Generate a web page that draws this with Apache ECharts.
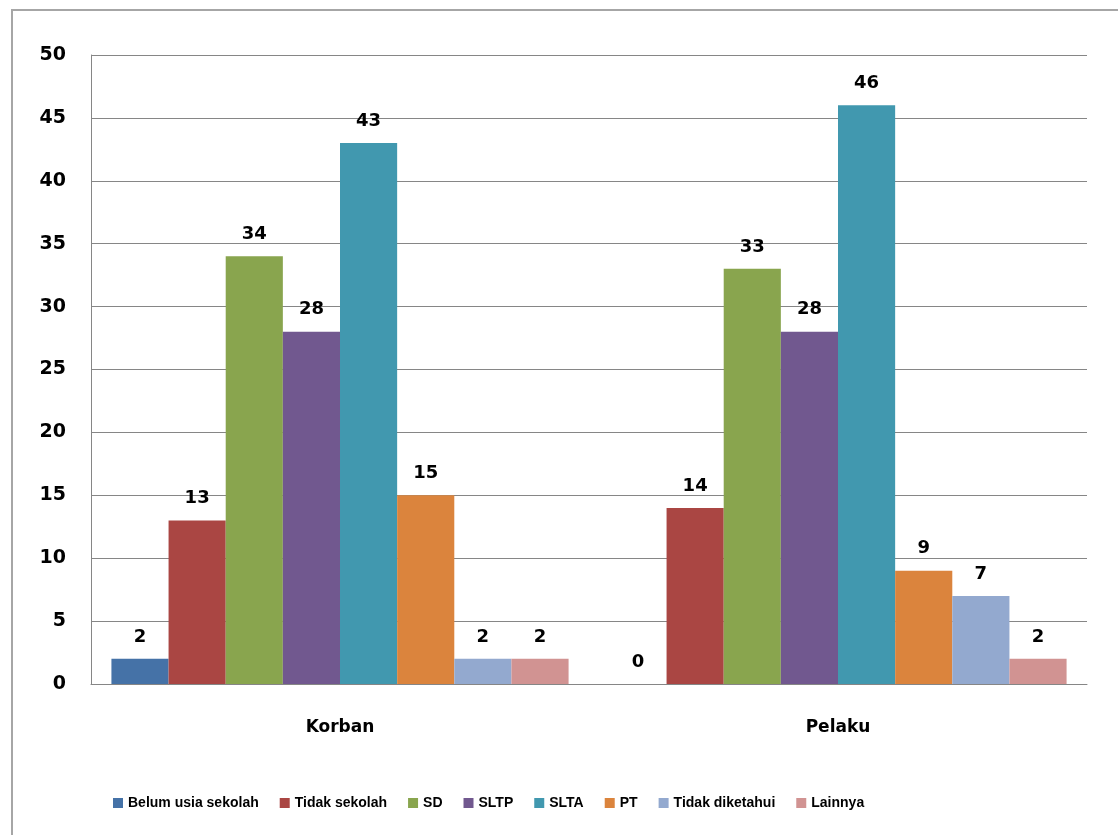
<!DOCTYPE html>
<html><head><meta charset="utf-8">
<script src="https://cdn.jsdelivr.net/npm/echarts@6/dist/echarts.min.js"></script>
<style>
html,body{margin:0;padding:0;background:#fff;}
#frame{position:absolute;left:11px;top:9px;width:1120px;height:840px;border-left:2px solid #a6a6a6;border-top:2px solid #a6a6a6;}
#c{position:absolute;left:0;top:0;width:1118px;height:835px;}
</style></head>
<body>
<div id="frame"></div>
<div id="c"></div>
<script>
const categories = ['Korban', 'Pelaku'];
const seriesNames = ['Belum usia sekolah', 'Tidak sekolah', 'SD', 'SLTP', 'SLTA', 'PT', 'Tidak diketahui', 'Lainnya'];
const belumUsiaSekolah = [2, 0];
const tidakSekolah = [13, 14];
const sd = [34, 33];
const sltp = [28, 28];
const slta = [43, 46];
const pt = [15, 9];
const tidakDiketahui = [2, 7];
const lainnya = [2, 2];
const yTicks = [0, 5, 10, 15, 20, 25, 30, 35, 40, 45, 50];

const seriesData = [belumUsiaSekolah, tidakSekolah, sd, sltp, slta, pt, tidakDiketahui, lainnya];
const colors = ['#4572A7', '#AA4643', '#89A54E', '#71588F', '#4198AF', '#DB843D', '#93A9CF', '#D19392'];

const chart = echarts.init(document.getElementById('c'));
chart.setOption({
  animation: false,
  color: colors,
  grid: {left: 91, right: 31, top: 55, bottom: 151},
  legend: {
    bottom: 20, left: 108, itemWidth: 10, itemHeight: 10, itemGap: 21,
    icon: 'rect',
    textStyle: {fontFamily: 'Liberation Sans Narrow, Liberation Sans', fontWeight: 'bold', fontSize: 14, color: '#000'},
    data: seriesNames
  },
  xAxis: {
    type: 'category', data: categories,
    axisLine: {lineStyle: {color: '#868686'}},
    axisTick: {show: false},
    axisLabel: {fontFamily: 'DejaVu Sans', fontWeight: 'bold', fontSize: 17, color: '#000', margin: 35}
  },
  yAxis: {
    type: 'value', min: yTicks[0], max: yTicks[yTicks.length - 1], interval: yTicks[1] - yTicks[0],
    axisLine: {show: true, lineStyle: {color: '#868686'}},
    axisTick: {show: false},
    splitLine: {lineStyle: {color: '#868686'}},
    axisLabel: {fontFamily: 'DejaVu Sans', fontWeight: 'bold', fontSize: 19, color: '#000', margin: 25}
  },
  series: seriesNames.map((n, i) => ({
    name: n, type: 'bar', data: seriesData[i],
    barGap: '0%', barCategoryGap: '8.2%',
    label: {show: true, position: 'top', distance: 13, fontFamily: 'DejaVu Sans', fontWeight: 'bold', fontSize: 18, color: '#000'}
  }))
});
</script>
</body></html>
